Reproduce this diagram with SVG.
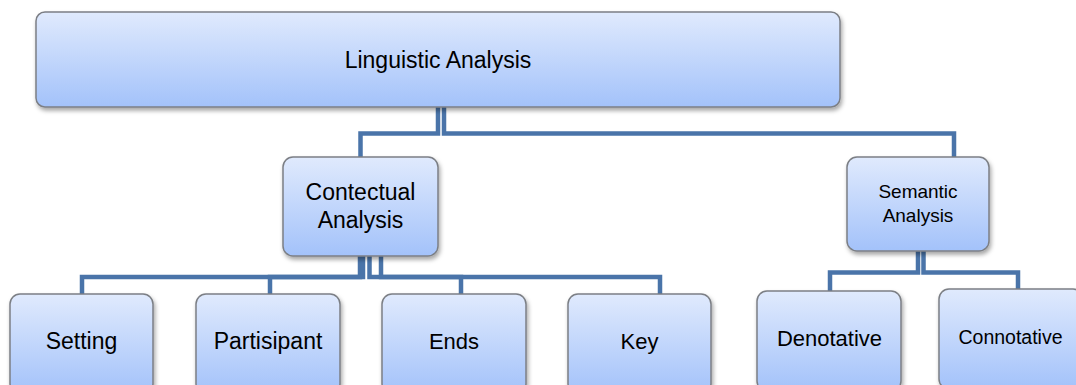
<svg xmlns="http://www.w3.org/2000/svg" width="1076" height="385" viewBox="0 0 1076 385">
  <defs>
    <linearGradient id="fill" x1="0" y1="0" x2="0" y2="1">
      <stop offset="0" stop-color="#e0eafd"/>
      <stop offset="1" stop-color="#a3c2fa"/>
    </linearGradient>
    <filter id="shadow" x="-10%" y="-10%" width="120%" height="130%">
      <feDropShadow dx="1.5" dy="3" stdDeviation="2" flood-color="#000" flood-opacity="0.35"/>
    </filter>
  </defs>
  <style>
    .box { fill: url(#fill); stroke: #7c7f85; stroke-width: 1.5; filter: url(#shadow); }
    .conn { fill: none; stroke: #4a74a9; stroke-width: 4.5; stroke-linejoin: miter; }
    text { font-family: "Liberation Sans", Arial, sans-serif; fill: #000; text-anchor: middle; }
  </style>
  <rect width="1076" height="385" fill="#fff"/>

  <g id="connectors">
    <path class="conn" d="M438,107 V133.5 H360.5 V157"/>
    <path class="conn" d="M444,107 V133.5 H954 V157"/>
    <path class="conn" d="M360,256 V277 H82 V294"/>
    <path class="conn" d="M363,256 V277 H270 V294"/>
    <path class="conn" d="M369.5,256 V277 H461 V294"/>
    <path class="conn" d="M381,256 V277 H660 V294"/>
    <path class="conn" d="M918,251 V272.5 H830 V291"/>
    <path class="conn" d="M923.5,251 V272.5 H1018 V289"/>
  </g>

  <g id="linguistic">
    <rect class="box" x="36" y="12" width="804" height="95" rx="9"/>
    <text x="438" y="68" font-size="23">Linguistic Analysis</text>
  </g>
  <g id="contectual">
    <rect class="box" x="283" y="157" width="155" height="99" rx="10"/>
    <text x="360.5" y="200" font-size="23">Contectual</text>
    <text x="360.5" y="228" font-size="23">Analysis</text>
  </g>
  <g id="semantic">
    <rect class="box" x="847" y="157" width="142" height="94" rx="10"/>
    <text x="918" y="198" font-size="19">Semantic</text>
    <text x="918" y="222" font-size="19">Analysis</text>
  </g>
  <g id="setting">
    <rect class="box" x="10" y="294" width="143" height="100" rx="10"/>
    <text x="81.5" y="349" font-size="23">Setting</text>
  </g>
  <g id="partisipant">
    <rect class="box" x="196" y="294" width="144" height="100" rx="10"/>
    <text x="268" y="349" font-size="23">Partisipant</text>
  </g>
  <g id="ends">
    <rect class="box" x="382" y="294" width="144" height="100" rx="10"/>
    <text x="454" y="349" font-size="22">Ends</text>
  </g>
  <g id="key">
    <rect class="box" x="568" y="294" width="143" height="100" rx="10"/>
    <text x="639.5" y="349" font-size="22">Key</text>
  </g>
  <g id="denotative">
    <rect class="box" x="757" y="291" width="144" height="100" rx="10"/>
    <text x="829.5" y="346" font-size="22">Denotative</text>
  </g>
  <g id="connotative">
    <rect class="box" x="939" y="289" width="144" height="100" rx="10"/>
    <text x="1010.5" y="344" font-size="19.5">Connotative</text>
  </g>
</svg>
